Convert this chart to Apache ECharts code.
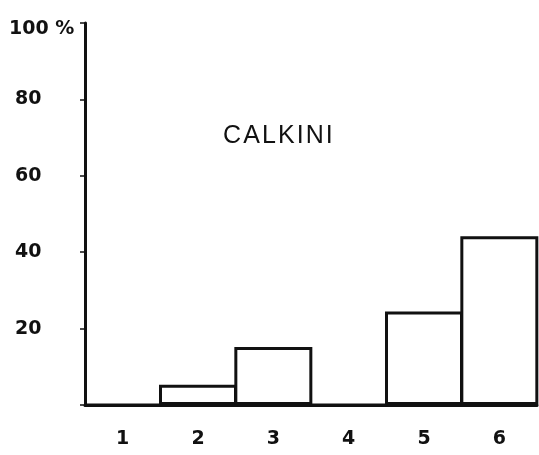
<!DOCTYPE html>
<html>
<head>
<meta charset="utf-8">
<script src="https://cdn.jsdelivr.net/npm/echarts@6/dist/echarts.min.js"></script>
<style>html,body{margin:0;padding:0;background:#fff;}#c{width:539px;height:455px;}</style>
</head>
<body>
<div id="c"></div>
<script>
var categories = ['1', '2', '3', '4', '5', '6'];
var values = [0, 5.3, 15.2, 0, 24.5, 44.2];
var yTicks = [0, 20, 40, 60, 80, 100];
var titleText = 'CALKINI';

var chart = echarts.init(document.getElementById('c'));
chart.setOption({
  animation: false,
  backgroundColor: '#fff',
  title: {
    text: titleText.split('').join('\u200A'),
    left: 218, top: 119,
    textStyle: { fontFamily: 'Liberation Sans', fontWeight: 'normal', fontSize: 25, color: '#111' }
  },
  grid: { left: 85, right: 2, top: 23, bottom: 50 },
  xAxis: {
    type: 'category',
    data: categories,
    axisLine: { lineStyle: { color: '#111', width: 3 } },
    axisTick: { show: false },
    axisLabel: { margin: 25, color: '#111', fontFamily: 'DejaVu Sans', fontWeight: 'bold', fontSize: 19 }
  },
  yAxis: {
    type: 'value',
    min: 0, max: 100, interval: 20,
    splitLine: { show: false },
    axisLine: { show: true, lineStyle: { color: '#111', width: 3 } },
    axisTick: { show: true, length: 5, lineStyle: { color: '#111', width: 1.5 } },
    axisLabel: {
      align: 'left', margin: 70, color: '#111',
      fontFamily: 'DejaVu Sans', fontWeight: 'bold', fontSize: 19,
      formatter: function (v) {
        if (v === yTicks[0]) return '';
        if (v === yTicks[yTicks.length - 1]) return '{top|' + v + ' %}';
        return String(v);
      },
      rich: { top: { fontFamily: 'DejaVu Sans', fontWeight: 'bold', fontSize: 19, color: '#111', padding: [12, 0, 0, -6] } }
    }
  },
  series: [{
    type: 'bar',
    data: values,
    barWidth: 78,
    itemStyle: { color: '#fff', borderColor: '#111', borderWidth: 3 }
  }]
});
</script>
</body>
</html>
